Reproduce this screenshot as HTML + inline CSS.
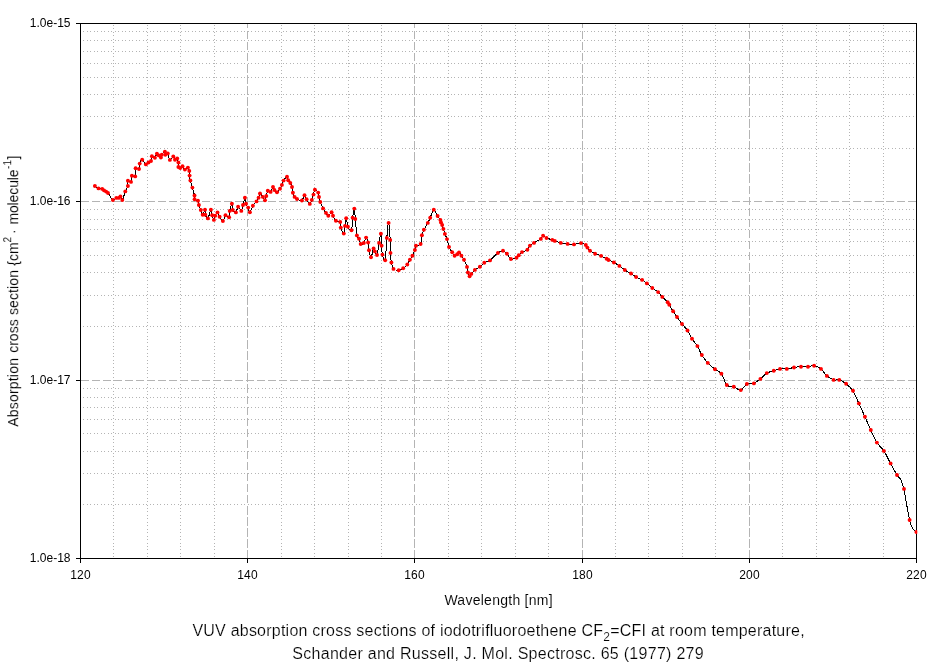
<!DOCTYPE html>
<html lang="en"><head><meta charset="utf-8"><title>VUV absorption cross sections of iodotrifluoroethene</title>
<style>
html,body{margin:0;padding:0;background:#fff;}
body{width:939px;height:665px;overflow:hidden;font-family:"Liberation Sans",sans-serif;}
svg{display:block;}
</style></head><body>
<svg width="939" height="665" viewBox="0 0 939 665">
<rect x="0" y="0" width="939" height="665" fill="#ffffff"/>
<g stroke="#b4b4b4" stroke-width="1" fill="none" shape-rendering="crispEdges">
<line x1="113.5" y1="25" x2="113.5" y2="557" stroke-dasharray="1 2.45"/>
<line x1="147.5" y1="25" x2="147.5" y2="557" stroke-dasharray="1 2.45"/>
<line x1="180.5" y1="25" x2="180.5" y2="557" stroke-dasharray="1 2.45"/>
<line x1="214.5" y1="25" x2="214.5" y2="557" stroke-dasharray="1 2.45"/>
<line x1="281.5" y1="25" x2="281.5" y2="557" stroke-dasharray="1 2.45"/>
<line x1="314.5" y1="25" x2="314.5" y2="557" stroke-dasharray="1 2.45"/>
<line x1="348.5" y1="25" x2="348.5" y2="557" stroke-dasharray="1 2.45"/>
<line x1="381.5" y1="25" x2="381.5" y2="557" stroke-dasharray="1 2.45"/>
<line x1="448.5" y1="25" x2="448.5" y2="557" stroke-dasharray="1 2.45"/>
<line x1="481.5" y1="25" x2="481.5" y2="557" stroke-dasharray="1 2.45"/>
<line x1="515.5" y1="25" x2="515.5" y2="557" stroke-dasharray="1 2.45"/>
<line x1="548.5" y1="25" x2="548.5" y2="557" stroke-dasharray="1 2.45"/>
<line x1="615.5" y1="25" x2="615.5" y2="557" stroke-dasharray="1 2.45"/>
<line x1="648.5" y1="25" x2="648.5" y2="557" stroke-dasharray="1 2.45"/>
<line x1="682.5" y1="25" x2="682.5" y2="557" stroke-dasharray="1 2.45"/>
<line x1="715.5" y1="25" x2="715.5" y2="557" stroke-dasharray="1 2.45"/>
<line x1="782.5" y1="25" x2="782.5" y2="557" stroke-dasharray="1 2.45"/>
<line x1="816.5" y1="25" x2="816.5" y2="557" stroke-dasharray="1 2.45"/>
<line x1="849.5" y1="25" x2="849.5" y2="557" stroke-dasharray="1 2.45"/>
<line x1="883.5" y1="25" x2="883.5" y2="557" stroke-dasharray="1 2.45"/>
<line x1="83" y1="148.5" x2="914" y2="148.5" stroke-dasharray="1 2.5"/>
<line x1="83" y1="116.5" x2="914" y2="116.5" stroke-dasharray="1 2.5"/>
<line x1="83" y1="94.5" x2="914" y2="94.5" stroke-dasharray="1 2.5"/>
<line x1="83" y1="77.5" x2="914" y2="77.5" stroke-dasharray="1 2.5"/>
<line x1="83" y1="63.5" x2="914" y2="63.5" stroke-dasharray="1 2.5"/>
<line x1="83" y1="51.5" x2="914" y2="51.5" stroke-dasharray="1 2.5"/>
<line x1="83" y1="40.5" x2="914" y2="40.5" stroke-dasharray="1 2.5"/>
<line x1="83" y1="31.5" x2="914" y2="31.5" stroke-dasharray="1 2.5"/>
<line x1="83" y1="326.5" x2="914" y2="326.5" stroke-dasharray="1 2.5"/>
<line x1="83" y1="295.5" x2="914" y2="295.5" stroke-dasharray="1 2.5"/>
<line x1="83" y1="272.5" x2="914" y2="272.5" stroke-dasharray="1 2.5"/>
<line x1="83" y1="255.5" x2="914" y2="255.5" stroke-dasharray="1 2.5"/>
<line x1="83" y1="241.5" x2="914" y2="241.5" stroke-dasharray="1 2.5"/>
<line x1="83" y1="229.5" x2="914" y2="229.5" stroke-dasharray="1 2.5"/>
<line x1="83" y1="219.5" x2="914" y2="219.5" stroke-dasharray="1 2.5"/>
<line x1="83" y1="209.5" x2="914" y2="209.5" stroke-dasharray="1 2.5"/>
<line x1="83" y1="504.5" x2="914" y2="504.5" stroke-dasharray="1 2.5"/>
<line x1="83" y1="473.5" x2="914" y2="473.5" stroke-dasharray="1 2.5"/>
<line x1="83" y1="451.5" x2="914" y2="451.5" stroke-dasharray="1 2.5"/>
<line x1="83" y1="433.5" x2="914" y2="433.5" stroke-dasharray="1 2.5"/>
<line x1="83" y1="419.5" x2="914" y2="419.5" stroke-dasharray="1 2.5"/>
<line x1="83" y1="407.5" x2="914" y2="407.5" stroke-dasharray="1 2.5"/>
<line x1="83" y1="397.5" x2="914" y2="397.5" stroke-dasharray="1 2.5"/>
<line x1="83" y1="388.5" x2="914" y2="388.5" stroke-dasharray="1 2.5"/>
</g>
<g stroke="#b4b4b4" stroke-width="1" fill="none" shape-rendering="crispEdges">
<line x1="247.5" y1="24" x2="247.5" y2="558" stroke-dasharray="8.5 2.55" stroke-dashoffset="4.2"/>
<line x1="414.5" y1="24" x2="414.5" y2="558" stroke-dasharray="8.5 2.55" stroke-dashoffset="4.2"/>
<line x1="582.5" y1="24" x2="582.5" y2="558" stroke-dasharray="8.5 2.55" stroke-dashoffset="4.2"/>
<line x1="749.5" y1="24" x2="749.5" y2="558" stroke-dasharray="8.5 2.55" stroke-dashoffset="4.2"/>
<line x1="81" y1="201.5" x2="916" y2="201.5" stroke-dasharray="8 3.034" stroke-dashoffset="0.5"/>
<line x1="81" y1="380.5" x2="916" y2="380.5" stroke-dasharray="8 3.034" stroke-dashoffset="0.5"/>
</g>
<g stroke="#000" stroke-width="1" fill="none" shape-rendering="crispEdges">
<rect x="80.5" y="23.5" width="836" height="535"/>
<line x1="76" y1="23.5" x2="80" y2="23.5"/>
<line x1="76" y1="201.5" x2="80" y2="201.5"/>
<line x1="76" y1="380.5" x2="80" y2="380.5"/>
<line x1="76" y1="558.5" x2="80" y2="558.5"/>
<line x1="80.5" y1="559" x2="80.5" y2="563"/>
<line x1="247.5" y1="559" x2="247.5" y2="563"/>
<line x1="414.5" y1="559" x2="414.5" y2="563"/>
<line x1="582.5" y1="559" x2="582.5" y2="563"/>
<line x1="749.5" y1="559" x2="749.5" y2="563"/>
<line x1="916.5" y1="559" x2="916.5" y2="563"/>
</g>
<path d="M94.9 186.0C95.5 186.4 97.3 187.9 98.5 188.4C99.7 188.9 101.3 188.6 102.2 188.9C103.1 189.2 103.4 190.0 104.1 190.4C104.8 190.8 105.4 191.2 106.1 191.6C106.8 192.0 106.9 191.6 108.0 193.0C109.1 194.4 111.5 199.2 112.9 200.0C114.3 200.8 115.3 198.2 116.3 197.9C117.3 197.6 118.2 198.2 118.9 197.9C119.6 197.7 119.8 196.1 120.4 196.4C121.0 196.8 121.5 200.8 122.3 200.0C123.1 199.2 124.4 193.7 125.3 191.4C126.2 189.1 127.5 187.8 127.9 186.0C128.3 184.2 127.4 181.5 127.9 180.8C128.4 180.1 130.3 182.8 131.0 181.9C131.7 181.1 131.2 176.6 131.9 175.7C132.6 174.8 134.6 177.6 135.2 176.4C135.8 175.2 135.0 169.5 135.6 168.3C136.2 167.1 138.3 169.8 139.0 169.0C139.7 168.2 139.2 165.2 139.7 163.6C140.2 162.0 141.2 159.6 142.2 159.7C143.2 159.8 144.8 163.9 145.9 164.4C147.0 164.9 147.7 163.1 148.5 162.5C149.3 161.9 150.4 162.0 151.0 161.0C151.6 160.0 151.2 156.8 151.9 156.3C152.6 155.8 154.1 158.2 154.9 157.8C155.7 157.4 156.2 154.1 156.9 153.7C157.6 153.3 158.1 154.8 158.8 155.4C159.5 156.1 160.4 157.7 160.9 157.6C161.4 157.5 161.1 155.7 161.8 154.7C162.5 153.7 164.3 151.6 164.9 151.6C165.5 151.6 164.8 154.5 165.3 154.8C165.8 155.1 167.0 152.7 167.8 153.5C168.6 154.3 169.0 159.4 169.9 159.9C170.8 160.4 172.5 156.5 173.3 156.5C174.2 156.5 174.3 159.4 175.0 159.7C175.7 160.0 176.6 157.9 177.2 158.4C177.8 158.9 178.2 161.1 178.4 162.5C178.6 163.9 178.1 166.1 178.4 167.0C178.7 167.9 179.5 168.2 180.2 168.1C180.9 168.0 181.7 165.9 182.5 166.2C183.3 166.4 184.0 169.4 184.9 169.6C185.8 169.8 187.2 167.4 187.9 167.6C188.6 167.8 189.0 169.6 189.3 170.9C189.6 172.2 189.4 174.0 189.6 175.6C189.8 177.2 189.9 178.5 190.4 180.5C190.9 182.5 191.7 185.1 192.4 187.6C193.1 190.1 194.1 193.6 194.5 195.5C194.9 197.4 194.0 198.4 194.6 199.3C195.2 200.2 197.3 199.9 198.0 200.8C198.7 201.8 198.4 203.5 198.9 205.0C199.4 206.5 200.2 208.4 200.8 210.0C201.4 211.6 202.0 214.7 202.7 214.7C203.4 214.7 204.6 209.8 205.0 209.8C205.4 209.8 204.8 213.3 205.3 214.7C205.8 216.1 207.0 219.2 207.9 218.4C208.8 217.6 210.2 210.3 210.9 209.8C211.6 209.3 211.7 213.6 212.2 215.3C212.7 217.0 213.4 219.8 213.9 219.9C214.4 220.0 214.6 217.1 215.2 215.8C215.8 214.6 216.8 212.2 217.5 212.4C218.2 212.6 218.7 215.3 219.6 216.7C220.5 218.1 221.9 221.2 222.9 221.0C223.9 220.8 224.5 215.8 225.5 215.2C226.5 214.6 228.4 218.0 229.1 217.3C229.8 216.6 229.2 213.2 229.7 210.9C230.2 208.7 231.4 204.0 231.9 203.8C232.4 203.7 232.0 208.6 232.7 210.0C233.4 211.4 235.0 212.9 235.9 212.4C236.8 211.9 237.2 207.1 238.1 206.8C239.0 206.6 240.5 211.2 241.3 210.9C242.1 210.6 242.4 207.2 243.0 205.0C243.6 202.8 244.4 198.0 244.9 197.8C245.4 197.6 245.4 202.2 246.0 203.8C246.6 205.4 247.5 206.2 248.2 207.6C248.8 209.0 249.1 212.5 249.9 212.2C250.7 211.9 251.8 207.6 252.9 205.8C254.0 204.0 255.6 202.7 256.5 201.4C257.4 200.1 258.0 199.1 258.6 197.8C259.2 196.5 259.3 193.7 260.0 193.5C260.7 193.3 262.1 195.8 262.9 196.9C263.7 198.0 264.4 200.5 265.0 200.3C265.6 200.2 265.8 197.6 266.3 196.0C266.8 194.4 267.1 191.4 267.8 190.7C268.5 190.0 269.7 192.5 270.6 191.9C271.5 191.3 272.4 187.3 273.0 187.0C273.6 186.7 273.7 189.1 274.4 190.0C275.1 190.9 276.1 192.4 277.0 192.2C277.9 192.0 279.2 189.9 280.0 188.7C280.8 187.5 281.3 186.2 281.9 184.9C282.5 183.6 282.8 182.0 283.6 180.6C284.5 179.2 286.2 176.8 287.0 176.7C287.8 176.6 287.6 179.1 288.2 180.2C288.8 181.2 289.7 181.9 290.3 183.0C290.9 184.1 291.6 185.4 292.0 187.0C292.4 188.6 292.5 191.2 292.9 192.8C293.3 194.5 293.9 195.9 294.6 196.9C295.3 197.9 295.8 198.4 297.0 199.0C298.2 199.6 300.6 201.1 301.9 200.5C303.1 199.9 303.7 195.5 304.5 195.3C305.3 195.1 305.7 197.9 306.6 199.3C307.5 200.7 308.9 203.8 309.8 203.9C310.7 204.0 311.2 201.5 311.8 199.9C312.4 198.3 313.0 196.3 313.5 194.6C314.0 192.9 314.1 190.1 314.9 189.8C315.7 189.5 317.5 191.4 318.2 192.6C318.9 193.8 318.6 195.4 319.0 197.0C319.4 198.6 319.6 200.1 320.3 202.0C321.0 203.9 322.2 206.6 323.1 208.4C324.1 210.2 325.1 211.7 326.0 212.9C326.9 214.1 327.4 215.8 328.3 215.7C329.2 215.6 330.8 212.2 331.6 212.2C332.4 212.2 332.3 214.4 333.0 215.8C333.7 217.2 334.7 219.7 335.9 220.7C337.1 221.7 339.4 220.8 340.2 222.0C341.0 223.2 340.2 225.7 340.8 227.6C341.4 229.5 343.1 233.9 343.8 233.6C344.5 233.3 344.6 228.5 345.0 225.9C345.4 223.3 345.7 218.1 346.2 218.2C346.7 218.3 347.0 224.7 347.9 226.7C348.8 228.7 350.7 231.7 351.5 230.2C352.3 228.7 352.1 221.3 352.6 217.7C353.1 214.1 353.9 208.4 354.3 208.6C354.8 208.8 354.9 214.5 355.3 219.0C355.7 223.5 356.3 232.1 356.9 235.4C357.5 238.7 358.4 237.4 359.0 238.8C359.6 240.2 359.9 243.3 360.7 244.0C361.5 244.7 362.9 244.1 363.8 243.0C364.7 241.9 365.4 237.7 366.1 237.6C366.8 237.5 367.6 240.4 368.1 242.5C368.6 244.6 368.5 247.9 369.0 250.3C369.5 252.8 370.2 257.5 371.0 257.2C371.8 256.9 373.0 249.4 373.6 248.4C374.2 247.4 374.3 250.3 374.9 251.4C375.5 252.5 376.3 256.4 377.0 255.0C377.7 253.6 378.5 246.5 379.1 242.9C379.8 239.3 380.5 233.2 380.9 233.7C381.3 234.2 381.4 242.3 381.6 245.8C381.9 249.3 381.8 252.2 382.4 254.6C383.0 257.0 384.5 263.1 385.2 260.3C385.9 257.5 386.2 244.1 386.8 237.9C387.4 231.7 388.0 222.6 388.6 222.9C389.2 223.2 389.9 234.9 390.2 239.9C390.5 244.9 390.3 249.1 390.5 252.9C390.7 256.7 390.9 259.8 391.4 262.5C391.9 265.2 392.3 267.6 393.5 268.9C394.7 270.2 397.1 270.4 398.7 270.3C400.3 270.2 401.8 269.3 403.2 268.3C404.6 267.3 406.2 265.9 407.3 264.5C408.4 263.1 409.0 261.2 409.9 259.7C410.8 258.2 411.6 257.3 412.4 255.7C413.2 254.1 414.3 251.7 414.9 250.0C415.5 248.3 415.1 246.8 416.0 245.8C416.9 244.8 419.6 245.8 420.6 244.0C421.6 242.2 421.3 237.7 421.9 235.3C422.4 232.9 422.9 231.8 423.9 229.7C424.9 227.6 426.8 224.9 427.8 222.9C428.9 220.9 429.2 219.9 430.2 217.7C431.2 215.5 432.6 210.1 433.8 209.8C435.0 209.5 436.5 214.3 437.6 216.0C438.7 217.7 439.8 218.8 440.4 219.9C441.0 221.0 440.7 221.6 441.0 222.4C441.3 223.2 441.8 223.9 442.2 225.0C442.6 226.1 442.9 227.4 443.4 228.9C443.8 230.4 444.3 232.2 444.9 233.9C445.5 235.6 446.3 236.9 447.0 239.1C447.7 241.3 448.1 244.8 449.0 247.0C449.9 249.2 451.3 250.9 452.2 252.3C453.1 253.8 453.8 255.4 454.6 255.7C455.4 256.0 456.5 254.8 457.2 254.3C457.9 253.8 458.3 252.3 459.0 252.5C459.7 252.7 460.6 254.5 461.4 255.7C462.2 256.9 463.1 257.9 464.0 259.8C464.9 261.7 466.4 264.8 467.0 266.9C467.6 269.0 467.5 270.9 467.9 272.5C468.3 274.1 469.0 276.1 469.6 276.3C470.2 276.5 470.4 275.0 471.3 273.9C472.2 272.8 473.5 271.1 474.9 269.9C476.3 268.7 478.3 267.9 479.9 266.7C481.5 265.5 482.6 263.9 484.3 262.8C486.0 261.8 487.7 262.0 490.0 260.4C492.3 258.8 495.7 254.6 497.9 253.0C500.1 251.4 501.5 250.7 503.0 250.8C504.5 250.9 505.6 252.3 506.9 253.7C508.2 255.1 509.3 258.3 510.9 259.0C512.5 259.7 515.2 258.4 516.5 257.8C517.8 257.2 517.9 256.2 518.8 255.3C519.7 254.4 520.6 253.0 522.0 252.1C523.4 251.2 526.1 250.9 527.4 249.8C528.7 248.7 528.8 246.8 529.9 245.7C531.0 244.5 532.2 244.0 534.0 242.9C535.8 241.8 539.3 240.1 540.8 238.9C542.3 237.7 542.1 235.8 543.1 235.7C544.1 235.5 545.0 237.3 546.5 238.0C548.0 238.7 550.9 239.4 552.3 239.9C553.7 240.4 553.4 240.4 554.8 240.9C556.2 241.4 558.7 242.4 560.8 242.9C562.9 243.4 565.4 243.7 567.6 243.9C569.8 244.2 571.8 244.5 574.0 244.4C576.2 244.3 579.0 243.0 581.0 243.1C583.0 243.2 584.7 244.2 585.8 245.0C586.9 245.8 586.7 246.6 587.4 247.6C588.1 248.6 588.7 249.8 590.0 250.8C591.3 251.8 593.2 252.8 595.1 253.7C597.0 254.5 599.2 255.1 601.1 255.9C603.0 256.8 605.4 258.1 606.6 258.8C607.8 259.5 607.3 259.4 608.5 260.0C609.7 260.6 612.1 261.5 613.9 262.5C615.7 263.5 617.6 264.6 619.4 265.9C621.2 267.1 622.9 268.7 624.8 270.0C626.7 271.3 629.1 272.3 631.0 273.5C632.9 274.7 634.2 275.9 636.1 277.0C638.0 278.1 640.3 278.8 642.1 279.9C643.9 281.0 645.2 282.0 646.9 283.4C648.6 284.8 650.4 286.6 652.3 288.0C654.2 289.4 656.4 290.6 658.1 292.1C659.8 293.6 660.7 295.2 662.3 296.9C663.9 298.6 666.5 301.0 667.7 302.3C668.9 303.6 668.4 303.3 669.3 304.8C670.2 306.3 671.8 309.2 673.1 311.2C674.4 313.2 675.5 314.9 677.0 317.0C678.5 319.1 680.2 321.8 682.0 324.0C683.8 326.2 685.8 328.0 687.5 330.5C689.2 333.0 690.4 336.2 692.0 338.8C693.6 341.4 695.8 343.4 697.4 346.1C699.0 348.8 700.1 352.2 701.8 355.0C703.5 357.8 705.6 360.5 707.8 362.9C710.0 365.3 712.7 367.5 715.0 369.3C717.3 371.1 719.4 371.2 721.4 373.8C723.4 376.4 724.7 382.8 726.8 385.0C728.9 387.2 731.5 385.9 733.8 386.8C736.1 387.7 738.6 390.6 740.8 390.1C743.0 389.6 744.7 385.1 746.9 384.0C749.1 382.9 751.6 384.2 753.9 383.4C756.1 382.5 758.2 380.6 760.4 378.9C762.5 377.2 764.6 374.5 766.8 373.1C769.0 371.8 771.6 371.5 773.8 370.8C776.0 370.1 777.8 369.2 780.0 368.9C782.2 368.6 784.5 369.1 786.8 368.9C789.1 368.7 791.6 367.9 794.0 367.5C796.4 367.1 798.7 366.8 801.0 366.7C803.3 366.6 805.8 366.8 808.0 366.7C810.2 366.6 811.9 365.4 814.1 365.8C816.3 366.2 818.9 367.2 821.0 368.9C823.1 370.6 824.8 374.1 826.9 375.9C829.0 377.7 831.5 379.2 833.6 379.9C835.7 380.6 837.2 379.3 839.3 379.9C841.4 380.5 843.8 381.9 846.1 383.7C848.4 385.5 850.9 387.5 853.0 390.8C855.1 394.1 856.9 399.1 858.9 403.4C860.9 407.7 862.9 412.4 864.9 416.8C866.9 421.2 868.8 425.7 870.8 430.0C872.8 434.3 874.7 439.1 876.9 442.6C879.1 446.1 881.6 447.4 883.9 450.9C886.2 454.4 888.4 459.4 890.6 463.4C892.8 467.4 895.4 472.4 897.0 475.0C898.6 477.6 899.6 477.8 900.5 479.2C901.4 480.6 901.6 481.8 902.2 483.4C902.8 485.0 903.5 486.7 904.0 488.9C904.5 491.1 904.9 493.8 905.3 496.4C905.7 498.9 906.1 501.3 906.6 504.2C907.1 507.1 907.8 511.0 908.3 513.6C908.8 516.2 909.2 518.1 909.6 520.0C910.0 521.9 910.3 523.2 910.9 524.7C911.5 526.2 912.1 527.5 913.0 528.7C913.9 529.9 915.8 531.5 916.4 532.0" fill="none" stroke="#000" stroke-width="1" stroke-linejoin="round" shape-rendering="crispEdges"/>
<clipPath id="pc"><rect x="80" y="23" width="837.3" height="536"/></clipPath>
<g fill="#ff0000" clip-path="url(#pc)">
<circle cx="94.9" cy="186.0" r="1.95"/>
<circle cx="98.5" cy="188.4" r="1.95"/>
<circle cx="102.2" cy="188.9" r="1.95"/>
<circle cx="104.1" cy="190.4" r="1.95"/>
<circle cx="106.1" cy="191.6" r="1.95"/>
<circle cx="108.0" cy="193.0" r="1.95"/>
<circle cx="112.9" cy="200.0" r="1.95"/>
<circle cx="116.3" cy="197.9" r="1.95"/>
<circle cx="118.9" cy="197.9" r="1.95"/>
<circle cx="120.4" cy="196.4" r="1.95"/>
<circle cx="122.3" cy="200.0" r="1.95"/>
<circle cx="125.3" cy="191.4" r="1.95"/>
<circle cx="127.9" cy="186.0" r="1.95"/>
<circle cx="127.9" cy="180.8" r="1.95"/>
<circle cx="131.0" cy="181.9" r="1.95"/>
<circle cx="131.9" cy="175.7" r="1.95"/>
<circle cx="135.2" cy="176.4" r="1.95"/>
<circle cx="135.6" cy="168.3" r="1.95"/>
<circle cx="139.0" cy="169.0" r="1.95"/>
<circle cx="139.7" cy="163.6" r="1.95"/>
<circle cx="142.2" cy="159.7" r="1.95"/>
<circle cx="145.9" cy="164.4" r="1.95"/>
<circle cx="148.5" cy="162.5" r="1.95"/>
<circle cx="151.0" cy="161.0" r="1.95"/>
<circle cx="151.9" cy="156.3" r="1.95"/>
<circle cx="154.9" cy="157.8" r="1.95"/>
<circle cx="156.9" cy="153.7" r="1.95"/>
<circle cx="158.8" cy="155.4" r="1.95"/>
<circle cx="160.9" cy="157.6" r="1.95"/>
<circle cx="161.8" cy="154.7" r="1.95"/>
<circle cx="164.9" cy="151.6" r="1.95"/>
<circle cx="165.3" cy="154.8" r="1.95"/>
<circle cx="167.8" cy="153.5" r="1.95"/>
<circle cx="169.9" cy="159.9" r="1.95"/>
<circle cx="173.3" cy="156.5" r="1.95"/>
<circle cx="175.0" cy="159.7" r="1.95"/>
<circle cx="177.2" cy="158.4" r="1.95"/>
<circle cx="178.4" cy="162.5" r="1.95"/>
<circle cx="178.4" cy="167.0" r="1.95"/>
<circle cx="180.2" cy="168.1" r="1.95"/>
<circle cx="182.5" cy="166.2" r="1.95"/>
<circle cx="184.9" cy="169.6" r="1.95"/>
<circle cx="187.9" cy="167.6" r="1.95"/>
<circle cx="189.3" cy="170.9" r="1.95"/>
<circle cx="189.6" cy="175.6" r="1.95"/>
<circle cx="190.4" cy="180.5" r="1.95"/>
<circle cx="192.4" cy="187.6" r="1.95"/>
<circle cx="194.5" cy="195.5" r="1.95"/>
<circle cx="194.6" cy="199.3" r="1.95"/>
<circle cx="198.0" cy="200.8" r="1.95"/>
<circle cx="198.9" cy="205.0" r="1.95"/>
<circle cx="200.8" cy="210.0" r="1.95"/>
<circle cx="202.7" cy="214.7" r="1.95"/>
<circle cx="205.0" cy="209.8" r="1.95"/>
<circle cx="205.3" cy="214.7" r="1.95"/>
<circle cx="207.9" cy="218.4" r="1.95"/>
<circle cx="210.9" cy="209.8" r="1.95"/>
<circle cx="212.2" cy="215.3" r="1.95"/>
<circle cx="213.9" cy="219.9" r="1.95"/>
<circle cx="215.2" cy="215.8" r="1.95"/>
<circle cx="217.5" cy="212.4" r="1.95"/>
<circle cx="219.6" cy="216.7" r="1.95"/>
<circle cx="222.9" cy="221.0" r="1.95"/>
<circle cx="225.5" cy="215.2" r="1.95"/>
<circle cx="229.1" cy="217.3" r="1.95"/>
<circle cx="229.7" cy="210.9" r="1.95"/>
<circle cx="231.9" cy="203.8" r="1.95"/>
<circle cx="232.7" cy="210.0" r="1.95"/>
<circle cx="235.9" cy="212.4" r="1.95"/>
<circle cx="238.1" cy="206.8" r="1.95"/>
<circle cx="241.3" cy="210.9" r="1.95"/>
<circle cx="243.0" cy="205.0" r="1.95"/>
<circle cx="244.9" cy="197.8" r="1.95"/>
<circle cx="246.0" cy="203.8" r="1.95"/>
<circle cx="248.2" cy="207.6" r="1.95"/>
<circle cx="249.9" cy="212.2" r="1.95"/>
<circle cx="252.9" cy="205.8" r="1.95"/>
<circle cx="256.5" cy="201.4" r="1.95"/>
<circle cx="258.6" cy="197.8" r="1.95"/>
<circle cx="260.0" cy="193.5" r="1.95"/>
<circle cx="262.9" cy="196.9" r="1.95"/>
<circle cx="265.0" cy="200.3" r="1.95"/>
<circle cx="266.3" cy="196.0" r="1.95"/>
<circle cx="267.8" cy="190.7" r="1.95"/>
<circle cx="270.6" cy="191.9" r="1.95"/>
<circle cx="273.0" cy="187.0" r="1.95"/>
<circle cx="274.4" cy="190.0" r="1.95"/>
<circle cx="277.0" cy="192.2" r="1.95"/>
<circle cx="280.0" cy="188.7" r="1.95"/>
<circle cx="281.9" cy="184.9" r="1.95"/>
<circle cx="283.6" cy="180.6" r="1.95"/>
<circle cx="287.0" cy="176.7" r="1.95"/>
<circle cx="288.2" cy="180.2" r="1.95"/>
<circle cx="290.3" cy="183.0" r="1.95"/>
<circle cx="292.0" cy="187.0" r="1.95"/>
<circle cx="292.9" cy="192.8" r="1.95"/>
<circle cx="294.6" cy="196.9" r="1.95"/>
<circle cx="297.0" cy="199.0" r="1.95"/>
<circle cx="301.9" cy="200.5" r="1.95"/>
<circle cx="304.5" cy="195.3" r="1.95"/>
<circle cx="306.6" cy="199.3" r="1.95"/>
<circle cx="309.8" cy="203.9" r="1.95"/>
<circle cx="311.8" cy="199.9" r="1.95"/>
<circle cx="313.5" cy="194.6" r="1.95"/>
<circle cx="314.9" cy="189.8" r="1.95"/>
<circle cx="318.2" cy="192.6" r="1.95"/>
<circle cx="319.0" cy="197.0" r="1.95"/>
<circle cx="320.3" cy="202.0" r="1.95"/>
<circle cx="323.1" cy="208.4" r="1.95"/>
<circle cx="326.0" cy="212.9" r="1.95"/>
<circle cx="328.3" cy="215.7" r="1.95"/>
<circle cx="331.6" cy="212.2" r="1.95"/>
<circle cx="333.0" cy="215.8" r="1.95"/>
<circle cx="335.9" cy="220.7" r="1.95"/>
<circle cx="340.2" cy="222.0" r="1.95"/>
<circle cx="340.8" cy="227.6" r="1.95"/>
<circle cx="343.8" cy="233.6" r="1.95"/>
<circle cx="345.0" cy="225.9" r="1.95"/>
<circle cx="346.2" cy="218.2" r="1.95"/>
<circle cx="347.9" cy="226.7" r="1.95"/>
<circle cx="351.5" cy="230.2" r="1.95"/>
<circle cx="352.6" cy="217.7" r="1.95"/>
<circle cx="354.3" cy="208.6" r="1.95"/>
<circle cx="355.3" cy="219.0" r="1.95"/>
<circle cx="356.9" cy="235.4" r="1.95"/>
<circle cx="359.0" cy="238.8" r="1.95"/>
<circle cx="360.7" cy="244.0" r="1.95"/>
<circle cx="363.8" cy="243.0" r="1.95"/>
<circle cx="366.1" cy="237.6" r="1.95"/>
<circle cx="368.1" cy="242.5" r="1.95"/>
<circle cx="369.0" cy="250.3" r="1.95"/>
<circle cx="371.0" cy="257.2" r="1.95"/>
<circle cx="373.6" cy="248.4" r="1.95"/>
<circle cx="374.9" cy="251.4" r="1.95"/>
<circle cx="377.0" cy="255.0" r="1.95"/>
<circle cx="379.1" cy="242.9" r="1.95"/>
<circle cx="380.9" cy="233.7" r="1.95"/>
<circle cx="381.6" cy="245.8" r="1.95"/>
<circle cx="382.4" cy="254.6" r="1.95"/>
<circle cx="385.2" cy="260.3" r="1.95"/>
<circle cx="386.8" cy="237.9" r="1.95"/>
<circle cx="388.6" cy="222.9" r="1.95"/>
<circle cx="390.2" cy="239.9" r="1.95"/>
<circle cx="390.5" cy="252.9" r="1.95"/>
<circle cx="391.4" cy="262.5" r="1.95"/>
<circle cx="393.5" cy="268.9" r="1.95"/>
<circle cx="398.7" cy="270.3" r="1.95"/>
<circle cx="403.2" cy="268.3" r="1.95"/>
<circle cx="407.3" cy="264.5" r="1.95"/>
<circle cx="409.9" cy="259.7" r="1.95"/>
<circle cx="412.4" cy="255.7" r="1.95"/>
<circle cx="414.9" cy="250.0" r="1.95"/>
<circle cx="416.0" cy="245.8" r="1.95"/>
<circle cx="420.6" cy="244.0" r="1.95"/>
<circle cx="421.9" cy="235.3" r="1.95"/>
<circle cx="423.9" cy="229.7" r="1.95"/>
<circle cx="427.8" cy="222.9" r="1.95"/>
<circle cx="430.2" cy="217.7" r="1.95"/>
<circle cx="433.8" cy="209.8" r="1.95"/>
<circle cx="437.6" cy="216.0" r="1.95"/>
<circle cx="440.4" cy="219.9" r="1.95"/>
<circle cx="441.0" cy="222.4" r="1.95"/>
<circle cx="442.2" cy="225.0" r="1.95"/>
<circle cx="443.4" cy="228.9" r="1.95"/>
<circle cx="444.9" cy="233.9" r="1.95"/>
<circle cx="447.0" cy="239.1" r="1.95"/>
<circle cx="449.0" cy="247.0" r="1.95"/>
<circle cx="452.2" cy="252.3" r="1.95"/>
<circle cx="454.6" cy="255.7" r="1.95"/>
<circle cx="457.2" cy="254.3" r="1.95"/>
<circle cx="459.0" cy="252.5" r="1.95"/>
<circle cx="461.4" cy="255.7" r="1.95"/>
<circle cx="464.0" cy="259.8" r="1.95"/>
<circle cx="467.0" cy="266.9" r="1.95"/>
<circle cx="467.9" cy="272.5" r="1.95"/>
<circle cx="469.6" cy="276.3" r="1.95"/>
<circle cx="471.3" cy="273.9" r="1.95"/>
<circle cx="474.9" cy="269.9" r="1.95"/>
<circle cx="479.9" cy="266.7" r="1.95"/>
<circle cx="484.3" cy="262.8" r="1.95"/>
<circle cx="490.0" cy="260.4" r="1.95"/>
<circle cx="497.9" cy="253.0" r="1.95"/>
<circle cx="503.0" cy="250.8" r="1.95"/>
<circle cx="506.9" cy="253.7" r="1.95"/>
<circle cx="510.9" cy="259.0" r="1.95"/>
<circle cx="516.5" cy="257.8" r="1.95"/>
<circle cx="518.8" cy="255.3" r="1.95"/>
<circle cx="522.0" cy="252.1" r="1.95"/>
<circle cx="527.4" cy="249.8" r="1.95"/>
<circle cx="529.9" cy="245.7" r="1.95"/>
<circle cx="534.0" cy="242.9" r="1.95"/>
<circle cx="540.8" cy="238.9" r="1.95"/>
<circle cx="543.1" cy="235.7" r="1.95"/>
<circle cx="546.5" cy="238.0" r="1.95"/>
<circle cx="552.3" cy="239.9" r="1.95"/>
<circle cx="554.8" cy="240.9" r="1.95"/>
<circle cx="560.8" cy="242.9" r="1.95"/>
<circle cx="567.6" cy="243.9" r="1.95"/>
<circle cx="574.0" cy="244.4" r="1.95"/>
<circle cx="581.0" cy="243.1" r="1.95"/>
<circle cx="585.8" cy="245.0" r="1.95"/>
<circle cx="587.4" cy="247.6" r="1.95"/>
<circle cx="590.0" cy="250.8" r="1.95"/>
<circle cx="595.1" cy="253.7" r="1.95"/>
<circle cx="601.1" cy="255.9" r="1.95"/>
<circle cx="606.6" cy="258.8" r="1.95"/>
<circle cx="608.5" cy="260.0" r="1.95"/>
<circle cx="613.9" cy="262.5" r="1.95"/>
<circle cx="619.4" cy="265.9" r="1.95"/>
<circle cx="624.8" cy="270.0" r="1.95"/>
<circle cx="631.0" cy="273.5" r="1.95"/>
<circle cx="636.1" cy="277.0" r="1.95"/>
<circle cx="642.1" cy="279.9" r="1.95"/>
<circle cx="646.9" cy="283.4" r="1.95"/>
<circle cx="652.3" cy="288.0" r="1.95"/>
<circle cx="658.1" cy="292.1" r="1.95"/>
<circle cx="662.3" cy="296.9" r="1.95"/>
<circle cx="667.7" cy="302.3" r="1.95"/>
<circle cx="669.3" cy="304.8" r="1.95"/>
<circle cx="673.1" cy="311.2" r="1.95"/>
<circle cx="677.0" cy="317.0" r="1.95"/>
<circle cx="682.0" cy="324.0" r="1.95"/>
<circle cx="687.5" cy="330.5" r="1.95"/>
<circle cx="692.0" cy="338.8" r="1.95"/>
<circle cx="697.4" cy="346.1" r="1.95"/>
<circle cx="701.8" cy="355.0" r="1.95"/>
<circle cx="707.8" cy="362.9" r="1.95"/>
<circle cx="715.0" cy="369.3" r="1.95"/>
<circle cx="721.4" cy="373.8" r="1.95"/>
<circle cx="726.8" cy="385.0" r="1.95"/>
<circle cx="733.8" cy="386.8" r="1.95"/>
<circle cx="740.8" cy="390.1" r="1.95"/>
<circle cx="746.9" cy="384.0" r="1.95"/>
<circle cx="753.9" cy="383.4" r="1.95"/>
<circle cx="760.4" cy="378.9" r="1.95"/>
<circle cx="766.8" cy="373.1" r="1.95"/>
<circle cx="773.8" cy="370.8" r="1.95"/>
<circle cx="780.0" cy="368.9" r="1.95"/>
<circle cx="786.8" cy="368.9" r="1.95"/>
<circle cx="794.0" cy="367.5" r="1.95"/>
<circle cx="801.0" cy="366.7" r="1.95"/>
<circle cx="808.0" cy="366.7" r="1.95"/>
<circle cx="814.1" cy="365.8" r="1.95"/>
<circle cx="821.0" cy="368.9" r="1.95"/>
<circle cx="826.9" cy="375.9" r="1.95"/>
<circle cx="833.6" cy="379.9" r="1.95"/>
<circle cx="839.3" cy="379.9" r="1.95"/>
<circle cx="846.1" cy="383.7" r="1.95"/>
<circle cx="853.0" cy="390.8" r="1.95"/>
<circle cx="858.9" cy="403.4" r="1.95"/>
<circle cx="864.9" cy="416.8" r="1.95"/>
<circle cx="870.8" cy="430.0" r="1.95"/>
<circle cx="876.9" cy="442.6" r="1.95"/>
<circle cx="883.9" cy="450.9" r="1.95"/>
<circle cx="890.6" cy="463.4" r="1.95"/>
<circle cx="897.0" cy="475.0" r="1.95"/>
<circle cx="904.0" cy="488.9" r="1.95"/>
<circle cx="909.6" cy="520.0" r="1.95"/>
<circle cx="916.4" cy="532.0" r="1.95"/>
</g>
<g opacity="0.999">
<g font-family="Liberation Sans, sans-serif" fill="#000" font-size="12px">
<text x="70.5" y="26.8" text-anchor="end">1.0e-15</text>
<text x="70.5" y="204.8" text-anchor="end">1.0e-16</text>
<text x="70.5" y="383.8" text-anchor="end">1.0e-17</text>
<text x="70.5" y="561.8" text-anchor="end">1.0e-18</text>
<text x="80.5" y="579" text-anchor="middle" letter-spacing="0.1">120</text>
<text x="247.5" y="579" text-anchor="middle" letter-spacing="0.1">140</text>
<text x="414.5" y="579" text-anchor="middle" letter-spacing="0.1">160</text>
<text x="582.5" y="579" text-anchor="middle" letter-spacing="0.1">180</text>
<text x="749.5" y="579" text-anchor="middle" letter-spacing="0.1">200</text>
<text x="916.5" y="579" text-anchor="middle" letter-spacing="0.1">220</text>
</g>
<text font-family="Liberation Sans, sans-serif" font-size="14px" fill="#000" stroke="#ffffff" stroke-width="0.08" x="498.5" y="605" text-anchor="middle" textLength="108.2" lengthAdjust="spacing">Wavelength [nm]</text>
<text font-family="Liberation Sans, sans-serif" font-size="14px" fill="#000" stroke="#ffffff" stroke-width="0.08" transform="translate(18.2 0) rotate(-90)" text-anchor="start"><tspan x="-426.8" letter-spacing="0.2">Absorption </tspan><tspan x="-352.8">cross </tspan><tspan x="-315.1" letter-spacing="0.12">section </tspan><tspan x="-265.8">{cm</tspan><tspan x="-242.5" font-size="10px" dy="-7.5">2</tspan><tspan x="-237.8" dy="7.5"> · </tspan><tspan x="-224.6" letter-spacing="-0.12">molecule</tspan><tspan x="-168.9" font-size="10px" dy="-7.5">-1</tspan><tspan x="-159.6" dy="7.5">]</tspan></text>
<text font-family="Liberation Sans, sans-serif" font-size="16px" fill="#000" stroke="#ffffff" stroke-width="0.18" x="498.5" y="636" text-anchor="middle" textLength="612.2" lengthAdjust="spacing">VUV absorption cross sections of iodotrifluoroethene CF<tspan font-size="12px" dy="4.5">2</tspan><tspan dy="-4.5">=CFI at room temperature,</tspan></text>
<text font-family="Liberation Sans, sans-serif" font-size="16px" fill="#000" stroke="#ffffff" stroke-width="0.18" x="498" y="659" text-anchor="middle" textLength="411.3" lengthAdjust="spacing">Schander and Russell, J. Mol. Spectrosc. 65 (1977) 279</text>
</g>
</svg>
</body></html>
